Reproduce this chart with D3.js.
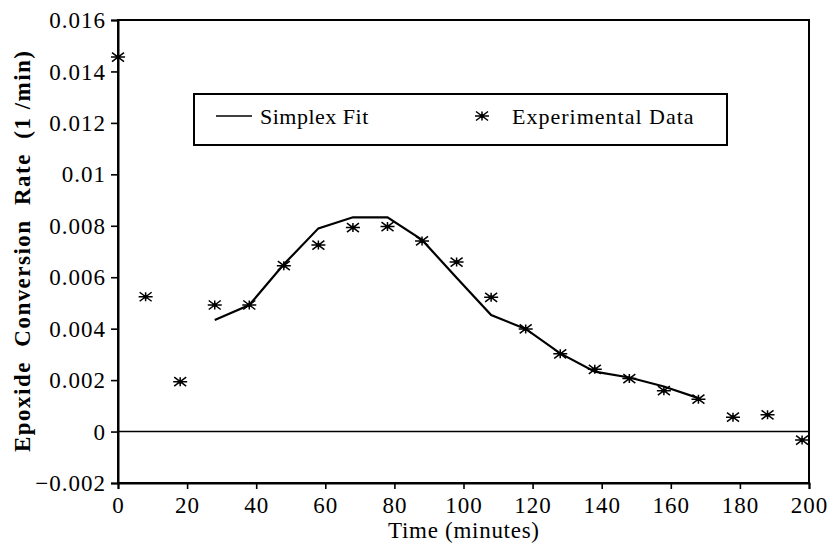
<!DOCTYPE html>
<html><head><meta charset="utf-8">
<script src="https://cdn.jsdelivr.net/npm/d3@7"></script>
<style>body{margin:0;background:#fff}svg{display:block}text{font-family:"Liberation Serif","Times New Roman",serif;fill:#000}</style>
</head><body><svg id="c" width="831" height="543"></svg>
<script>
const expTime = [0, 8, 18, 28, 38, 48, 58, 68, 78, 88, 98, 108, 118, 128, 138, 148, 158, 168, 178, 188, 198];
const expRate = [0.01456, 0.00524, 0.00194, 0.00492, 0.00492, 0.00645, 0.00725, 0.00793, 0.00797, 0.00741, 0.00659, 0.00522, 0.00399, 0.00302, 0.00242, 0.00206, 0.00159, 0.00126, 0.00056, 0.00065, -0.00033];
const fitTime = [28, 38, 48, 58, 68, 78, 88, 98, 108, 118, 128, 138, 148, 158, 168];
const fitRate = [0.00434, 0.00492, 0.0065, 0.0079, 0.00833, 0.00833, 0.00745, 0.00598, 0.00453, 0.00399, 0.00304, 0.00233, 0.0021, 0.00175, 0.0013];
const xTicks = [0, 20, 40, 60, 80, 100, 120, 140, 160, 180, 200];
const yTicks = [-0.002, 0, 0.002, 0.004, 0.006, 0.008, 0.01, 0.012, 0.014, 0.016];
const yTickLabels = ["\u22120.002", "0", "0.002", "0.004", "0.006", "0.008", "0.01", "0.012", "0.014", "0.016"];

const svg = d3.select("#c");
const L = 118, R = 809, T = 20, B = 483;
const x = d3.scaleLinear().domain([0, 200]).range([L, R]);
const y = d3.scaleLinear().domain([-0.002, 0.016]).range([B, T]);
const fs = 23;

// frame
svg.append("rect").attr("x", L).attr("y", T).attr("width", R - L).attr("height", B - T)
  .attr("fill", "none").attr("stroke", "#000").attr("stroke-width", 2);

const xa = svg.append("g").attr("transform", `translate(0,${B})`)
  .call(d3.axisBottom(x).tickValues(xTicks).tickSize(6).tickPadding(3).tickFormat(d3.format("d")));
const ya = svg.append("g").attr("transform", `translate(${L},0)`)
  .call(d3.axisLeft(y).tickValues(yTicks).tickSize(7).tickPadding(5).tickFormat((d, i) => yTickLabels[i]));
[xa, ya].forEach(g => {
  g.select(".domain").attr("stroke-width", 2);
  g.selectAll(".tick line").attr("stroke-width", 1.6);
  g.selectAll("text").attr("font-family", "Liberation Serif").attr("font-size", fs)
    .attr("letter-spacing", 1);
});
xa.selectAll("text").attr("y", 30).attr("dy", 0);
ya.selectAll("text").attr("dy", "0.33em");

// zero line
svg.append("line").attr("x1", L).attr("x2", R).attr("y1", y(0)).attr("y2", y(0))
  .attr("stroke", "#000").attr("stroke-width", 1.6);

// fit line
svg.append("path").datum(fitTime.map((t, i) => [t, fitRate[i]]))
  .attr("d", d3.line().x(d => x(d[0])).y(d => y(d[1])))
  .attr("fill", "none").attr("stroke", "#000").attr("stroke-width", 2.2);

function star(g, cx, cy) {
  const p = `M${cx-7},${cy}H${cx+7}M${cx-6},${cy-4.5}L${cx+6},${cy+4.5}M${cx-6},${cy+4.5}L${cx+6},${cy-4.5}M${cx},${cy-4.5}V${cy+4.5}`;
  g.append("path").attr("d", p).attr("stroke", "#000").attr("stroke-width", 1.5).attr("fill", "none");
  g.append("circle").attr("cx", cx).attr("cy", cy).attr("r", 2).attr("fill", "#000");
}
const pts = svg.append("g");
expTime.forEach((t, i) => star(pts, x(t), y(expRate[i])));

// legend
const lg = svg.append("g");
lg.append("rect").attr("x", 194).attr("y", 94).attr("width", 533).attr("height", 51)
  .attr("fill", "#fff").attr("stroke", "#000").attr("stroke-width", 2);
lg.append("line").attr("x1", 216).attr("x2", 252).attr("y1", 116).attr("y2", 116).attr("stroke", "#000").attr("stroke-width", 1.6);
lg.append("text").attr("x", 260).attr("y", 124).attr("font-size", 22).attr("letter-spacing", 0.5).text("Simplex Fit");
star(lg, 482, 116);
lg.append("text").attr("x", 512).attr("y", 124).attr("font-size", 22).attr("letter-spacing", 1).text("Experimental Data");

// axis titles
svg.append("text").attr("x", (L + R) / 2).attr("y", 538).attr("text-anchor", "middle")
  .attr("font-size", fs).attr("textLength", 151).attr("lengthAdjust", "spacing").text("Time (minutes)");
svg.append("text").attr("transform", `translate(30,${(T + B) / 2}) rotate(-90)`).attr("text-anchor", "middle")
  .attr("font-size", 23).attr("font-weight", "bold").style("white-space", "pre")
  .attr("textLength", 401).attr("lengthAdjust", "spacing")
  .text("Epoxide  Conversion  Rate  (1 /min)");
</script></body></html>
